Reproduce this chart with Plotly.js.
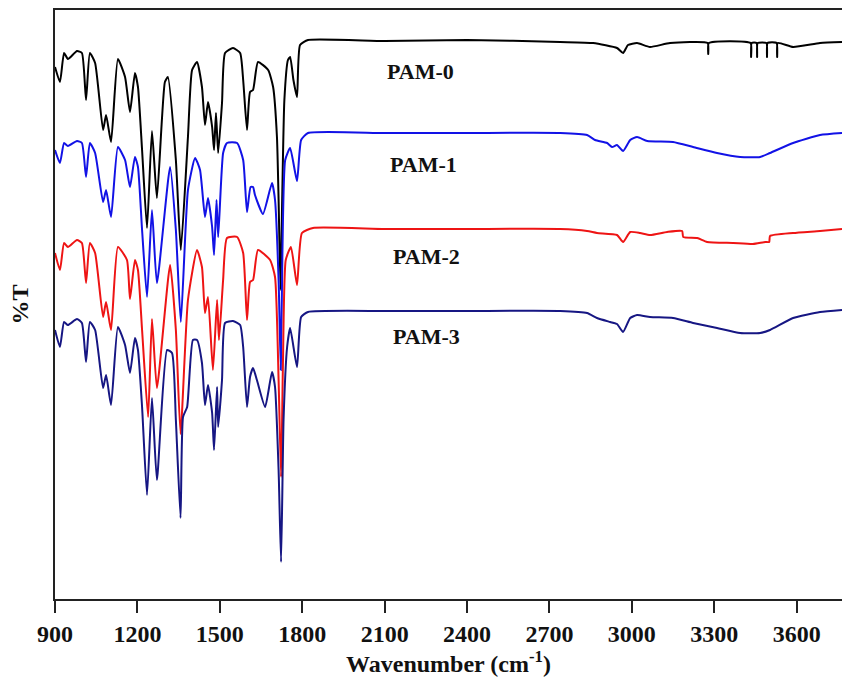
<!DOCTYPE html>
<html>
<head>
<meta charset="utf-8">
<script src="https://cdn.plot.ly/plotly-3.0.1.min.js"></script>
<style>
  html, body { margin: 0; padding: 0; background: #ffffff; }
  #chart { width: 842px; height: 691px; }
</style>
</head>
<body>
<div id="chart"></div>
<script>
// Wavenumber (cm^-1) and transmittance (arbitrary units, stacked)
const pam0Wn = [900,918,933,947,980,998,1013,1027,1046,1075,1086,1104,1129,1155,1173,1191,1202,1217,1235,1253,1271,1300,1311,1340,1358,1384,1399,1417,1435,1446,1457,1472,1479,1486,1494,1508,1519,1548,1574,1585,1599,1610,1621,1639,1676,1694,1708,1714,1721,1727,1735,1748,1756,1768,1781,1792,1821,2100,2400,2739,2859,2946,2968,2986,3019,3066,3139,3276,3278,3280,3432,3434,3436,3454,3456,3458,3490,3492,3494,3527,3529,3531,3587,3685,3765];
const pam0T  = [533,518,547,541,549,547,500,547,537,470,485,458,541,523,488,527,513,450,372,469,402,518,523,440,350,463,530,538,513,475,498,473,450,487,447,497,547,552,547,520,470,508,510,538,530,513,463,400,310,400,500,540,543,520,503,555,560,559,560,558,557,552,547,555,557,553,557,557,546,557,557,543,557,557,543,557,557,543,557,557,543,557,553,557,558];

const pam1Wn = [900,918,933,947,980,998,1013,1027,1046,1075,1086,1104,1129,1155,1173,1191,1202,1217,1235,1253,1271,1319,1340,1358,1384,1410,1428,1446,1457,1472,1479,1488,1494,1512,1526,1563,1585,1599,1612,1621,1628,1657,1690,1701,1714,1722,1728,1738,1756,1781,1796,1821,2100,2400,2739,2837,2866,2910,2928,2946,2968,2994,3019,3056,3150,3223,3310,3394,3467,3503,3587,3685,3765];
const pam1T  = [450,437,457,454,459,457,423,457,447,398,410,383,453,440,413,443,433,370,303,390,317,433,370,278,410,442,430,383,402,373,345,400,363,447,457,457,440,388,413,413,405,386,417,400,320,230,350,440,452,419,460,467,467,467,467,465,460,457,453,455,449,460,463,459,458,453,447,443,443,447,457,465,467];

const pam2Wn = [900,918,933,947,980,998,1013,1027,1046,1075,1086,1104,1129,1162,1173,1191,1202,1217,1239,1253,1271,1319,1340,1357,1384,1417,1435,1446,1457,1475,1490,1497,1512,1526,1563,1585,1599,1610,1621,1639,1683,1701,1714,1723,1730,1740,1759,1781,1799,1839,2100,2400,2739,2837,2873,2946,2968,2994,3030,3066,3128,3183,3187,3238,3274,3369,3441,3485,3500,3503,3587,3685,3765];
const pam2T  = [347,330,357,353,360,357,317,357,347,283,298,270,353,340,301,340,330,270,183,281,212,335,270,166,300,350,333,287,303,230,300,260,320,362,363,347,280,318,320,350,340,323,220,123,240,340,353,315,367,372,371,371,371,369,367,365,358,368,367,365,368,369,363,362,358,357,356,358,358,364,367,369,371];

const pam3Wn = [900,918,933,947,980,998,1013,1027,1046,1075,1086,1104,1129,1155,1173,1191,1202,1217,1235,1253,1271,1308,1326,1340,1357,1366,1381,1402,1417,1435,1446,1457,1472,1479,1490,1494,1508,1519,1548,1574,1585,1599,1610,1621,1635,1665,1690,1701,1714,1723,1732,1745,1756,1781,1796,1821,2100,2400,2739,2837,2873,2921,2946,2968,2994,3019,3066,3150,3223,3310,3394,3467,3503,3587,3685,3765];
const pam3T  = [270,253,278,275,281,277,238,278,270,212,225,195,273,255,227,262,250,193,105,202,120,250,247,180,82,183,193,260,260,237,195,215,187,150,213,173,220,277,279,275,253,193,223,232,220,193,228,213,130,38,180,253,272,233,283,288,289,289,289,287,282,278,276,268,282,285,283,282,277,272,267,267,270,282,288,290];

const seriesNames = ['PAM-0','PAM-1','PAM-2','PAM-3'];
const seriesColors = ['#000000','#1212e6','#ee1414','#161683'];
const labelWn = [2229, 2240, 2251, 2251];
const labelT  = [529, 436, 344, 264];
const tickVals = [900,1200,1500,1800,2100,2400,2700,3000,3300,3600];

const xs = [pam0Wn, pam1Wn, pam2Wn, pam3Wn];
const ys = [pam0T, pam1T, pam2T, pam3T];

const serif = 'Liberation Serif, Times New Roman, serif';

const traces = seriesNames.map((n, i) => ({
  x: xs[i], y: ys[i], name: n, type: 'scatter', mode: 'lines',
  line: {color: seriesColors[i], width: 2, shape: 'spline', smoothing: 0.5},
  hoverinfo: 'x+y+name'
}));

const annotations = seriesNames.map((n, i) => ({
  x: labelWn[i], y: labelT[i], xref: 'x', yref: 'y', text: n, showarrow: false,
  font: {family: serif, size: 22, color: '#111', weight: 'bold'}
}));

const layout = {
  width: 842, height: 691,
  margin: {l: 55, r: 0, t: 10, b: 92},
  paper_bgcolor: '#ffffff', plot_bgcolor: '#ffffff',
  showlegend: false,
  xaxis: {
    range: [900, 3765], tickvals: tickVals, ticks: 'outside', ticklen: 12, tickwidth: 2,
    tickcolor: '#222', showline: true, linewidth: 2, linecolor: '#222', mirror: true,
    showgrid: false, zeroline: false,
    tickfont: {family: serif, size: 24, color: '#111', weight: 'bold'},
    title: {text: 'Wavenumber (cm<sup>-1</sup>)', standoff: 8,
            font: {family: serif, size: 24, color: '#111', weight: 'bold'}}
  },
  yaxis: {
    range: [1, 590], showticklabels: false, ticks: '', showline: true, linewidth: 2,
    linecolor: '#222', mirror: false, showgrid: false, zeroline: false,
    title: {text: '%T', standoff: 18, font: {family: serif, size: 24, color: '#111', weight: 'bold'}}
  },
  annotations: annotations
};

Plotly.newPlot('chart', traces, layout, {displayModeBar: false, staticPlot: true});
</script>
</body>
</html>
